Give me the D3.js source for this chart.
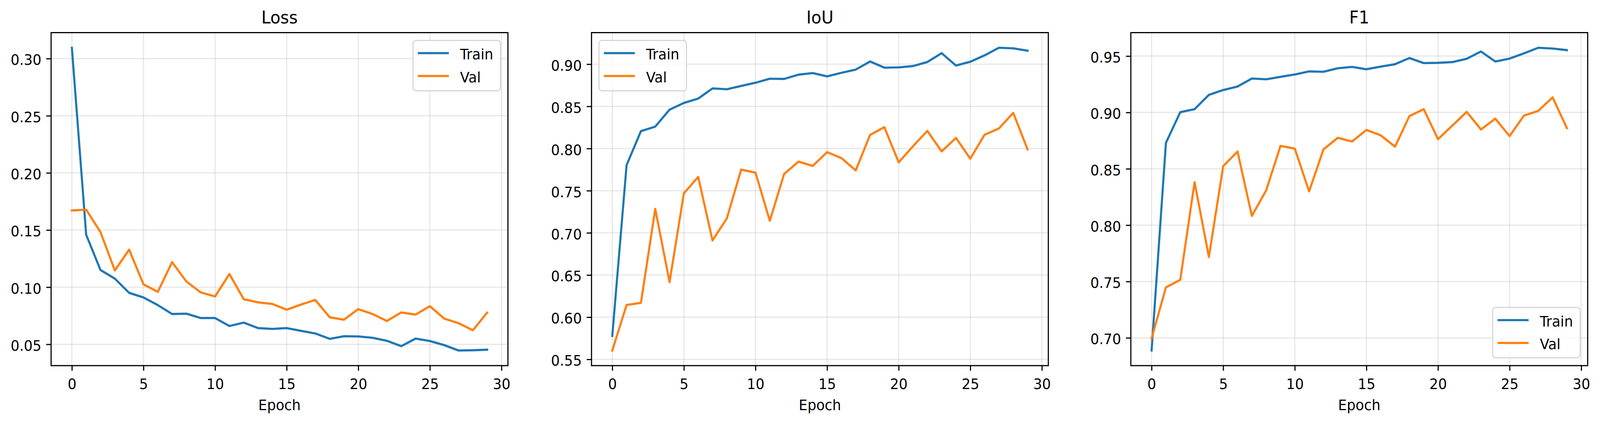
<!DOCTYPE html>
<html>
<head>
<meta charset="utf-8">
<script src="https://cdn.jsdelivr.net/npm/d3@7"></script>
<style>
  html, body { margin: 0; padding: 0; background: #fff; overflow: hidden; }
  #fig { display: block; width: 100vw; height: 100vh; }
  svg text { font-family: "DejaVu Sans", sans-serif; fill: #000; }
  .grid line { stroke: #b0b0b0; stroke-opacity: 0.3; stroke-width: 3; }
  .tick line { stroke: #000; stroke-width: 3; }
  .train_line { fill: none; stroke: #1f77b4; stroke-width: 5.6; stroke-linejoin: round; stroke-linecap: square; }
  .val_line { fill: none; stroke: #ff7f0e; stroke-width: 5.6; stroke-linejoin: round; stroke-linecap: square; }
</style>
</head>
<body>
<svg id="fig" viewBox="0 0 4280 1088" preserveAspectRatio="none"></svg>
<script>

// epochs 0..29
var epochs = [0,1,2,3,4,5,6,7,8,9,10,11,12,13,14,15,16,17,18,19,20,21,22,23,24,25,26,27,28,29];
var x_ticks = [0,5,10,15,20,25,30];

var loss_train = [0.3095,0.1458,0.115,0.1075,0.095,0.091,0.0843,0.0765,0.0768,0.073,0.073,0.066,0.069,0.0642,0.0635,
                  0.0642,0.0618,0.0595,0.0548,0.0571,0.0569,0.0557,0.0531,0.0484,0.055,0.0529,0.0493,0.0446,0.0448,0.0453];
var loss_val   = [0.1671,0.1678,0.1482,0.1146,0.1328,0.1025,0.0959,0.1219,0.1049,0.0954,0.0919,0.1115,0.0895,0.0867,0.0853,
                  0.0803,0.0848,0.0888,0.0737,0.0715,0.0808,0.0765,0.0704,0.0779,0.076,0.0834,0.0725,0.0685,0.0623,0.0777];
var loss_ticks = [0.05,0.10,0.15,0.20,0.25,0.30];

var iou_train = [0.5778,0.7804,0.8206,0.826,0.8461,0.8541,0.8592,0.8713,0.8703,0.8742,0.878,0.8828,0.8825,0.8876,0.8895,
                 0.8856,0.8898,0.8936,0.9032,0.8959,0.8962,0.8978,0.9026,0.9131,0.8984,0.9029,0.9105,0.9195,0.9188,0.916];
var iou_val   = [0.5605,0.6145,0.617,0.7284,0.6416,0.7469,0.7663,0.691,0.7172,0.775,0.7714,0.7143,0.7698,0.7845,0.7794,
                 0.7957,0.7887,0.774,0.8161,0.8253,0.7836,0.8027,0.8209,0.7966,0.8126,0.788,0.8164,0.8238,0.8423,0.7989];
var iou_ticks = [0.55,0.60,0.65,0.70,0.75,0.80,0.85,0.90];

var f1_train = [0.6888,0.873,0.9002,0.9029,0.9156,0.9199,0.923,0.9301,0.9294,0.9316,0.9337,0.9364,0.9361,0.9392,0.9404,
                0.9383,0.9407,0.9428,0.9483,0.9438,0.944,0.9447,0.9476,0.9541,0.9452,0.9478,0.9524,0.9574,0.9567,0.9553];
var f1_val   = [0.6995,0.7448,0.7515,0.8381,0.7718,0.8524,0.8653,0.8082,0.8309,0.8703,0.8679,0.83,0.8672,0.8775,0.8742,
                0.8845,0.8797,0.8696,0.8967,0.9029,0.8763,0.8883,0.9005,0.8849,0.8945,0.879,0.8972,0.9014,0.9134,0.8861];
var f1_ticks = [0.70,0.75,0.80,0.85,0.90,0.95];

var series_names = ["Train", "Val"];

var fig = d3.select("#fig");
var fs = 37;

// pad an extent by 5% like matplotlib does
function pad_ext(ext){
	var p = (ext[1]-ext[0])*0.05;
	return [ ext[0]-p, ext[1]+p ];
}

function draw_panel( left, title, train, val, yticks, legend_pos ){

	var top = 83.5, width = 1222, height = 852.5;

	var g = fig.append("g").attr("transform", "translate(" + left + "," + top + ")");

	var xAxis = d3.scaleLinear().domain( pad_ext(d3.extent(epochs)) ).range([ 0, width ]);
	var yAxis = d3.scaleLinear().domain( pad_ext(d3.extent(train.concat(val))) ).range([ height, 0 ]);

	// grid
	var grid = g.append("g").attr("class", "grid");
	grid.selectAll(".gx").data(x_ticks.filter(function(d){ return xAxis(d) <= width; }))
		.enter().append("line")
		.attr("x1", function(d){ return xAxis(d); }).attr("x2", function(d){ return xAxis(d); })
		.attr("y1", 0).attr("y2", height);
	grid.selectAll(".gy").data(yticks)
		.enter().append("line")
		.attr("y1", function(d){ return yAxis(d); }).attr("y2", function(d){ return yAxis(d); })
		.attr("x1", 0).attr("x2", width);

	// lines
	var line = d3.line()
		.x(function(d, i){ return xAxis(epochs[i]); })
		.y(function(d){ return yAxis(d); });

	g.append("path").datum( train ).attr("class", "train_line").attr("d", line);
	g.append("path").datum( val ).attr("class", "val_line").attr("d", line);

	// axes
	var gx = g.append("g")
		.attr("transform", "translate(0," + height + ")")
		.call(d3.axisBottom(xAxis).tickValues(x_ticks).tickSize(13).tickSizeOuter(0).tickPadding(13));
	gx.select(".domain").remove();
	gx.selectAll("text").attr("font-size", fs).attr("font-family", "DejaVu Sans").attr("dy", "0.92em");

	var gy = g.append("g")
		.call(d3.axisLeft(yAxis).tickValues(yticks).tickSize(13).tickSizeOuter(0).tickPadding(13)
			.tickFormat(d3.format(".2f")));
	gy.select(".domain").remove();
	gy.selectAll("text").attr("font-size", fs).attr("font-family", "DejaVu Sans").attr("dy", "0.43em");

	// frame
	g.append("rect")
		.attr("x", 0).attr("y", 0).attr("width", width).attr("height", height)
		.attr("fill", "none").attr("stroke", "#000").attr("stroke-width", 3);

	// title and label
	g.append("text")
		.attr("x", width/2).attr("y", -23.5)
		.attr("text-anchor", "middle").attr("font-size", 44.4)
		.text(title);
	g.append("text")
		.attr("x", width/2).attr("y", height + 114)
		.attr("text-anchor", "middle").attr("font-size", fs)
		.text("Epoch");

	// legend
	var lw = 234, lh = 129, lx, ly;
	if( legend_pos == "upper right" ){ lx = width - 20 - lw; ly = 20; }
	else if( legend_pos == "upper left" ){ lx = 20; ly = 20; }
	else { lx = width - 20 - lw; ly = height - 20 - lh; }

	var lg = g.append("g").attr("transform", "translate(" + lx + "," + ly + ")");
	lg.append("rect")
		.attr("width", lw).attr("height", lh).attr("rx", 8).attr("ry", 8)
		.attr("fill", "#fff").attr("fill-opacity", 0.8)
		.attr("stroke", "#cccccc").attr("stroke-opacity", 0.8).attr("stroke-width", 3);

	var colors = ["#1f77b4", "#ff7f0e"];
	series_names.forEach(function(name, i){
		var yy = 32.5 + i*58.5;
		lg.append("line")
			.attr("x1", 13).attr("x2", 96).attr("y1", yy).attr("y2", yy)
			.attr("stroke", colors[i]).attr("stroke-width", 5.6).attr("stroke-linecap", "butt");
		lg.append("text")
			.attr("x", 126).attr("y", yy + 16.5)
			.attr("font-size", fs)
			.text(name);
	});
}

draw_panel( 136.7, "Loss", loss_train, loss_val, loss_ticks, "upper right" );
draw_panel( 1582.3, "IoU", iou_train, iou_val, iou_ticks, "upper left" );
draw_panel( 3025, "F1", f1_train, f1_val, f1_ticks, "lower right" );

</script>
</body>
</html>
